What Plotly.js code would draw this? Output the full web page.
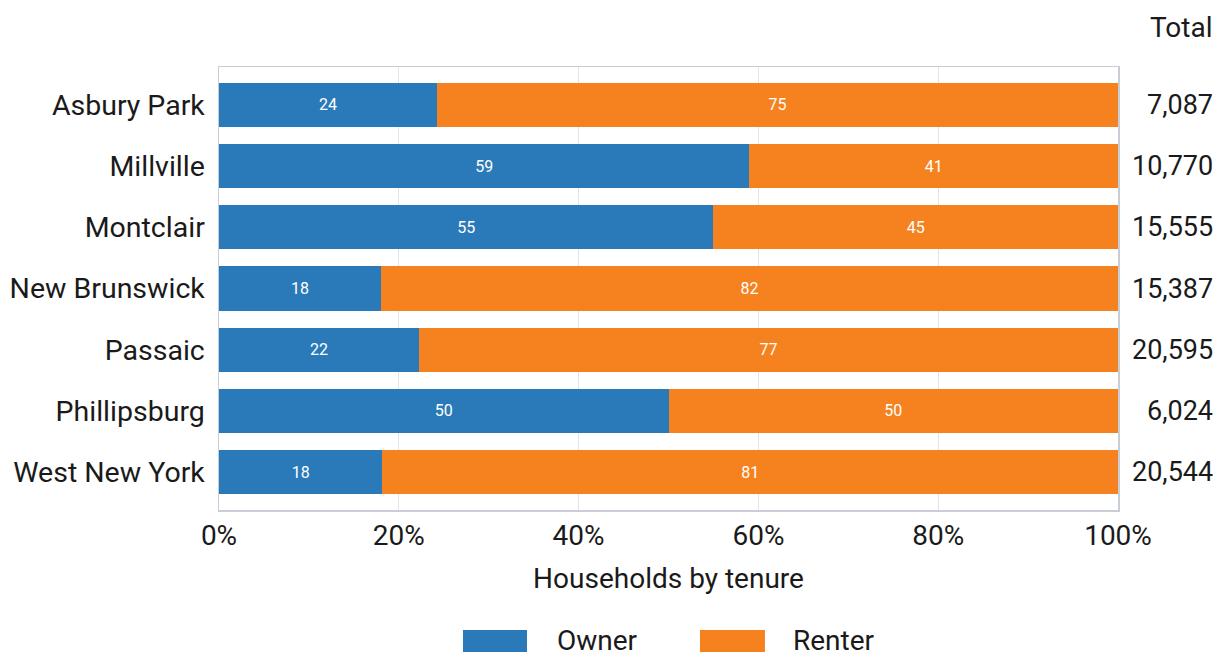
<!DOCTYPE html>
<html>
<head>
<meta charset="utf-8">
<script src="https://cdn.plot.ly/plotly-3.0.1.min.js"></script>
<style>
  html, body { margin: 0; padding: 0; background: #ffffff; }
  #chart { width: 1225px; height: 657px; }
</style>
</head>
<body>
<div id="chart"></div>
<script>
// Households by tenure, owner vs renter share per municipality
const places = ["Asbury Park", "Millville", "Montclair", "New Brunswick", "Passaic", "Phillipsburg", "West New York"];
const ownerPct = [24, 59, 55, 18, 22, 50, 18];
const renterPct = [75, 41, 45, 82, 77, 50, 81];
const totalHouseholds = [7087, 10770, 15555, 15387, 20595, 6024, 20544];
const xTicks = [0, 20, 40, 60, 80, 100];
const seriesNames = ["Owner", "Renter"];

const ownerColor = "#2a7ab9";
const renterColor = "#f6821f";
const fontFamily = "Roboto, 'Liberation Sans', sans-serif";
const inkColor = "#1a1a1a";

const barBase = {
  type: "bar",
  orientation: "h",
  y: places,
  width: 0.72,
  textposition: "inside",
  insidetextanchor: "middle",
  textfont: { family: fontFamily, size: 16, color: "#ffffff" },
  hoverinfo: "skip",
  showlegend: false
};

const traces = [
  Object.assign({}, barBase, {
    name: seriesNames[0],
    x: ownerPct,
    text: ownerPct.map(String),
    marker: { color: ownerColor, line: { width: 0 } }
  }),
  Object.assign({}, barBase, {
    name: seriesNames[1],
    x: renterPct,
    text: renterPct.map(String),
    marker: { color: renterColor, line: { width: 0 } }
  })
];

// Totals column to the right of the plot
const totalsX = 1.108;
const annotations = [{
  xref: "paper", yref: "paper", x: totalsX, y: 1.09,
  xanchor: "right", yanchor: "middle", showarrow: false,
  text: "Total", font: { family: fontFamily, size: 28, color: inkColor }
}];
places.forEach((p, i) => {
  annotations.push({
    xref: "paper", yref: "y", x: totalsX, y: p,
    xanchor: "right", yanchor: "middle", showarrow: false,
    text: totalHouseholds[i].toLocaleString("en-US"),
    font: { family: fontFamily, size: 27, color: inkColor }
  });
});

// Legend drawn as wide swatches below the axis title
const legendSwatches = [
  { x0: 0.2714, x1: 0.3426, color: ownerColor, labelX: 0.3737 },
  { x0: 0.5350, x1: 0.6073, color: renterColor, labelX: 0.6362 }
];
const shapes = legendSwatches.map(s => ({
  type: "rect", xref: "paper", yref: "paper",
  x0: s.x0, x1: s.x1, y0: -0.3205, y1: -0.2709,
  fillcolor: s.color, line: { width: 0 }
}));
legendSwatches.forEach((s, i) => {
  annotations.push({
    xref: "paper", yref: "paper", x: s.labelX, y: -0.2957,
    xanchor: "left", yanchor: "middle", showarrow: false,
    text: seriesNames[i], font: { family: fontFamily, size: 28, color: inkColor }
  });
});

const layout = {
  width: 1225,
  height: 657,
  margin: { l: 219, r: 107, t: 67, b: 147, pad: 0 },
  paper_bgcolor: "#ffffff",
  plot_bgcolor: "#ffffff",
  barmode: "stack",
  barnorm: "percent",
  showlegend: false,
  font: { family: fontFamily, color: inkColor },
  xaxis: {
    range: [0, 100],
    tickvals: xTicks,
    ticktext: xTicks.map(v => v + "%"),
    tickfont: { family: fontFamily, size: 28, color: inkColor },
    showgrid: true,
    gridcolor: "#e4e4e4",
    gridwidth: 1,
    zeroline: false,
    showline: true,
    linecolor: "#c9ced6",
    linewidth: 1.5,
    mirror: true,
    ticks: "",
    ticklabelstandoff: 0,
    title: {
      text: "Households by tenure",
      font: { family: fontFamily, size: 28, color: inkColor },
      standoff: 17
    },
    fixedrange: true
  },
  yaxis: {
    type: "category",
    range: [6.62, -0.62],
    tickfont: { family: fontFamily, size: 28.5, color: inkColor },
    showgrid: false,
    zeroline: false,
    showline: true,
    linecolor: "#c9ced6",
    linewidth: 1.5,
    mirror: true,
    ticks: "",
    ticklabelstandoff: 7,
    fixedrange: true
  },
  annotations: annotations,
  shapes: shapes
};

Plotly.newPlot("chart", traces, layout, { displayModeBar: false, staticPlot: true });
</script>
</body>
</html>
